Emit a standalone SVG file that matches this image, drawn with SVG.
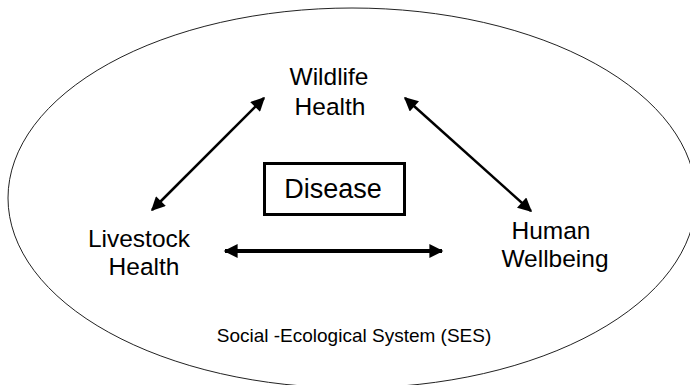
<svg xmlns="http://www.w3.org/2000/svg" width="690" height="385" viewBox="0 0 690 385">
<style>
text{font-family:"Liberation Sans",Arial,sans-serif;fill:#000;text-anchor:middle}
.lbl{font-size:24.5px}
.ln{stroke:#000;fill:none}
</style>
<defs>
<marker id="ah" viewBox="0 0 10 10" refX="9" refY="5" markerUnits="userSpaceOnUse" markerWidth="16" markerHeight="14" orient="auto-start-reverse">
<path d="M0,0 L10,5 L0,10 z" fill="#000"/>
</marker>
</defs>
<rect width="690" height="385" fill="#fff"/>
<g id="ses">
<ellipse cx="352" cy="198" rx="344" ry="190" fill="none" stroke="#222" stroke-width="1"/>
<text x="354" y="342" style="font-size:19px">Social -Ecological System (SES)</text>
</g>
<g id="wildlife"><text class="lbl" x="329" y="85">Wildlife</text><text class="lbl" x="330" y="115">Health</text></g>
<g id="livestock"><text class="lbl" x="139" y="247">Livestock</text><text class="lbl" x="144" y="275">Health</text></g>
<g id="human"><text class="lbl" x="551" y="239">Human</text><text class="lbl" x="555" y="267">Wellbeing</text></g>
<g id="disease"><rect x="264.5" y="163.5" width="140" height="51" fill="#fff" stroke="#000" stroke-width="3"/><text x="333" y="198" style="font-size:27px">Disease</text></g>
<g id="connectors">
<line class="ln" x1="152" y1="210" x2="264" y2="98" stroke-width="2.5" marker-start="url(#ah)" marker-end="url(#ah)"/>
<line class="ln" x1="405" y1="98" x2="531" y2="211" stroke-width="2.5" marker-start="url(#ah)" marker-end="url(#ah)"/>
<line class="ln" x1="225" y1="251" x2="442" y2="251" stroke-width="4" marker-start="url(#ah)" marker-end="url(#ah)"/>
</g>
</svg>
